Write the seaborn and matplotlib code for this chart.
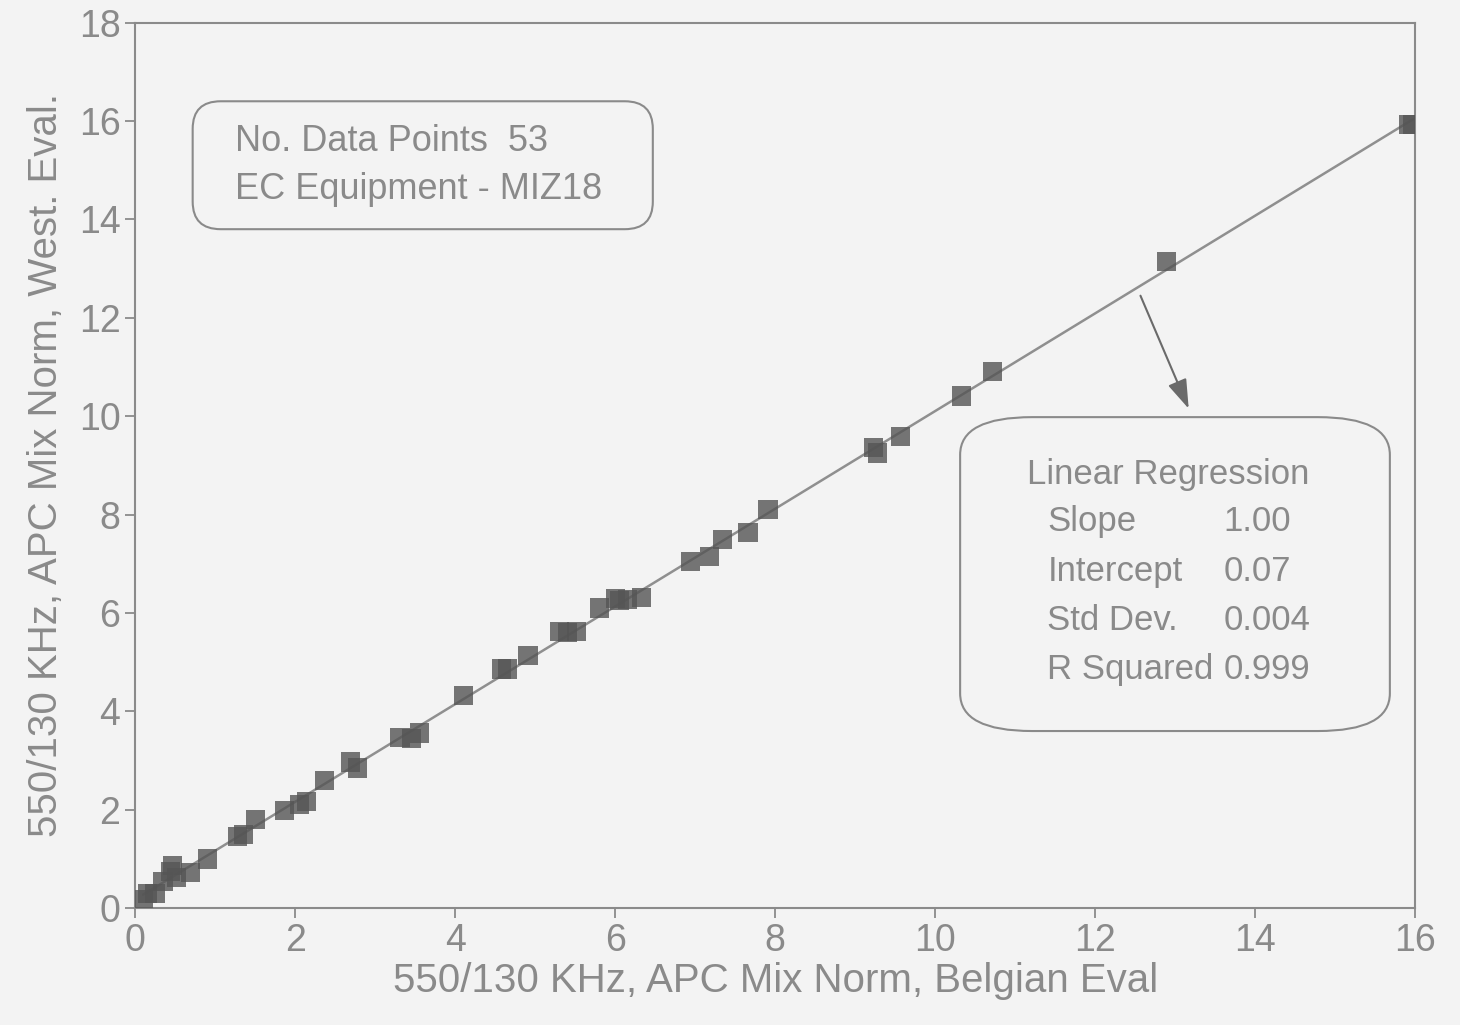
import matplotlib
matplotlib.use("Agg")
import matplotlib.pyplot as plt
import seaborn as sns
import pandas as pd
from matplotlib.patches import FancyBboxPatch

belgian = [0.10, 0.16, 0.25, 0.35, 0.44, 0.47, 0.52, 0.69, 0.90, 1.28, 1.36, 1.50, 1.87, 2.05, 2.14,
           2.37, 2.69, 2.78, 3.31, 3.45, 3.55, 4.10, 4.58, 4.65, 4.91, 5.30, 5.40, 5.52, 5.80,
           6.00, 6.05, 6.15, 6.33, 6.94, 7.18, 7.34, 7.66, 7.91, 9.23, 9.28, 9.56, 10.33,
           10.71, 12.89, 15.92, 15.97]
westing = [0.18, 0.30, 0.30, 0.55, 0.75, 0.86, 0.62, 0.72, 1.00, 1.45, 1.49, 1.80, 1.98, 2.10, 2.16,
           2.60, 2.97, 2.85, 3.46, 3.45, 3.56, 4.32, 4.86, 4.86, 5.13, 5.62, 5.60, 5.62, 6.10,
           6.30, 6.25, 6.28, 6.32, 7.05, 7.15, 7.49, 7.63, 8.10, 9.37, 9.25, 9.59, 10.41,
           10.91, 13.14, 15.93, 15.93]

x_ticks = [0, 2, 4, 6, 8, 10, 12, 14, 16]
y_ticks = [0, 2, 4, 6, 8, 10, 12, 14, 16, 18]

info_lines = ["No. Data Points  53", "EC Equipment - MIZ18"]
reg_title = "Linear Regression"
reg_labels = ["Slope", "Intercept", "Std Dev.", "R Squared"]
reg_values = ["1.00", "0.07", "0.004", "0.999"]

sns.set_style("ticks")
plt.rcParams['font.family'] = ['Liberation Sans', 'DejaVu Sans']

TXT = "#8a8a8a"
BG = "#f3f3f3"

fig = plt.figure(figsize=(14.6, 10.25), dpi=100, facecolor=BG)
ax = fig.add_axes([0.0925, 0.114, 0.877, 0.864], facecolor=BG)

df = pd.DataFrame({"Belgian": belgian, "West": westing})
sns.regplot(data=df, x="Belgian", y="West", ax=ax, ci=None, marker="s",
            scatter_kws={"s": 190, "color": "#555555", "edgecolor": "none", "zorder": 3},
            line_kws={"color": "#8f8f8f", "lw": 1.8, "zorder": 2})

ax.set_xlim(0, 16)
ax.set_ylim(0, 18)
ax.set_xticks(x_ticks)
ax.set_yticks(y_ticks)
ax.tick_params(axis="both", colors=TXT, labelsize=27, length=7, width=1.3, direction="out")
for s in ax.spines.values():
    s.set_color("#8a8a8a")
    s.set_linewidth(1.5)

ax.set_xlabel("550/130 KHz, APC Mix Norm, Belgian Eval", fontsize=29, color=TXT, labelpad=2)
ax.set_ylabel("550/130 KHz, APC Mix Norm, West. Eval.", fontsize=29, color=TXT, labelpad=10)

# info box
box1 = FancyBboxPatch((0.72, 13.8), 5.75, 2.6, boxstyle="round,pad=0,rounding_size=0.35",
                      mutation_aspect=1.6,
                      fc="none", ec="#8a8a8a", lw=1.5, transform=ax.transData)
ax.add_patch(box1)
ax.text(1.25, 15.58, info_lines[0], fontsize=26, color=TXT, va="center")
ax.text(1.25, 14.6, info_lines[1], fontsize=26, color=TXT, va="center")

# regression box
box2 = FancyBboxPatch((10.31, 3.6), 5.37, 6.38, boxstyle="round,pad=0,rounding_size=0.9",
                      mutation_aspect=0.85,
                      fc="none", ec="#8a8a8a", lw=1.5, transform=ax.transData)
ax.add_patch(box2)
ax.text(11.15, 8.82, reg_title, fontsize=25, color=TXT, va="center")
ys_txt = [7.85, 6.85, 5.85, 4.85]
for lab, val, yy in zip(reg_labels, reg_values, ys_txt):
    ax.text(11.4, yy, lab, fontsize=25, color=TXT, va="center")
    ax.text(13.6, yy, val, fontsize=25, color=TXT, va="center")

ax.annotate("", xy=(13.18, 10.1), xytext=(12.55, 12.5),
            arrowprops=dict(arrowstyle="-|>,head_length=1.8,head_width=0.6",
                            color="#6a6a6a", lw=1.5))

fig.savefig("out.png", dpi=100, facecolor=BG)
